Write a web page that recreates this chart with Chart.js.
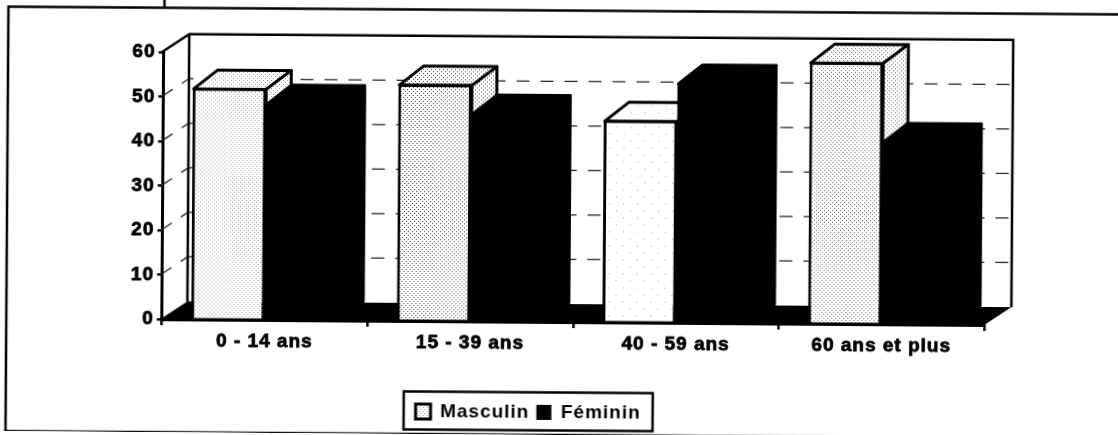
<!DOCTYPE html>
<html>
<head>
<meta charset="utf-8">
<title>Masculin / Féminin</title>
<style>
    html, body { margin: 0; padding: 0; background: #fff; overflow: hidden; }
    /* the scan is a little crooked */
    canvas { display: block; transform: rotate(0.4deg); transform-origin: 559px 217px; }
</style>
<script src="https://cdn.jsdelivr.net/npm/chart.js@4/dist/chart.umd.min.js"></script>
</head>
<body>
<canvas id="chart" width="1118" height="435"></canvas>
<script>
const categories = ['0 - 14 ans', '15 - 39 ans', '40 - 59 ans', '60 ans et plus'];
const masculin = [52, 53.2, 45.4, 58.8];
const feminin = [48.7, 46.8, 53.9, 41.1];
const yTicks = [0, 10, 20, 30, 40, 50, 60];

// depth of the fake 3D, in pixels
const WALL_DX = 27, WALL_DY = -18;
const BAR_DX = 25, BAR_DY = -18;

// dots on a small tile, the scanned screen of the light bars
function stipple(step, color) {
    const tile = document.createElement('canvas');
    tile.width = tile.height = step * 2;
    const c = tile.getContext('2d');
    c.fillStyle = '#fff';
    c.fillRect(0, 0, step * 2, step * 2);
    c.fillStyle = color;
    c.fillRect(0, 0, 1, 1);
    c.fillRect(step, step, 1, 1);
    return document.getElementById('chart').getContext('2d').createPattern(tile, 'repeat');
}

const malePatterns = [stipple(2, '#999'), stipple(2, '#444'), stipple(7, '#aaa'), stipple(2, '#777')];

// top and side faces of one bar
function drawFaces(ctx, bar, fill) {
    const left = bar.x - bar.width / 2;
    const right = bar.x + bar.width / 2;
    ctx.save();
    ctx.fillStyle = fill;
    ctx.strokeStyle = '#000';
    ctx.lineWidth = 3;
    ctx.lineJoin = 'round';
    ctx.beginPath();
    ctx.moveTo(left + 1, bar.y + 1);
    ctx.lineTo(left + BAR_DX, bar.y + BAR_DY);
    ctx.lineTo(right + BAR_DX, bar.y + BAR_DY);
    ctx.lineTo(right, bar.y + 1);
    ctx.closePath();
    ctx.fill();
    ctx.stroke();
    ctx.beginPath();
    ctx.moveTo(right, bar.y + 1);
    ctx.lineTo(right + BAR_DX, bar.y + BAR_DY);
    ctx.lineTo(right + BAR_DX, bar.base + BAR_DY);
    ctx.lineTo(right, bar.base);
    ctx.closePath();
    ctx.fill();
    ctx.stroke();
    ctx.restore();
}

const depthPlugin = {
    id: 'depth',
    beforeLayout(chart) {
        chart.ctx.letterSpacing = '1px';
    },
    afterLayout(chart) {
        // legend sits left of centre in the original
        const legend = chart.legend;
        legend.left = 405;
        legend.right = 654;
        legend.top = 396;
        legend.bottom = 428;
        legend.adjustHitBoxes();
    },
    beforeDraw(chart) {
        const ctx = chart.ctx;
        ctx.letterSpacing = '1px';
        // outer frame runs off the right side of the picture
        ctx.save();
        ctx.strokeStyle = '#000';
        ctx.lineWidth = 2.5;
        ctx.strokeRect(7, 10.5, 1300, 424.5);
        // stray mark on the scan above the frame
        ctx.beginPath();
        ctx.moveTo(163, 2);
        ctx.lineTo(163, 10);
        ctx.stroke();
        ctx.restore();
    },
    beforeDatasetsDraw(chart) {
        const ctx = chart.ctx;
        const y = chart.scales.y;
        const x0 = chart.chartArea.left - 1.5;
        const x1 = chart.chartArea.right;
        const top = y.getPixelForValue(60);
        const base = y.getPixelForValue(0);

        ctx.save();
        // floor
        ctx.fillStyle = '#000';
        ctx.beginPath();
        ctx.moveTo(x0, base);
        ctx.lineTo(x1, base);
        ctx.lineTo(x1 + WALL_DX, base + WALL_DY);
        ctx.lineTo(x0 + WALL_DX, base + WALL_DY);
        ctx.closePath();
        ctx.fill();

        // dashed lines on the two walls
        ctx.strokeStyle = '#222';
        ctx.lineWidth = 1.3;
        ctx.setLineDash([13, 11]);
        yTicks.slice(1, -1).forEach(v => {
            const py = y.getPixelForValue(v);
            ctx.beginPath();
            ctx.moveTo(x0, py);
            ctx.lineTo(x0 + WALL_DX, py + WALL_DY);
            ctx.lineTo(x1 + WALL_DX, py + WALL_DY);
            ctx.stroke();
        });
        ctx.setLineDash([]);

        // walls
        ctx.strokeStyle = '#000';
        ctx.lineWidth = 2.5;
        ctx.beginPath();
        ctx.moveTo(x0, top);
        ctx.lineTo(x0 + WALL_DX, top + WALL_DY);
        ctx.lineTo(x1 + WALL_DX, top + WALL_DY);
        ctx.lineTo(x1 + WALL_DX, base + WALL_DY);
        ctx.moveTo(x0 + WALL_DX, top + WALL_DY);
        ctx.lineTo(x0 + WALL_DX, base + WALL_DY);
        ctx.stroke();
        ctx.restore();

        // male faces go behind every front, the female bar hides part of them
        chart.getDatasetMeta(0).data.forEach((bar, i) => drawFaces(ctx, bar, malePatterns[i]));
    },
    afterDatasetsDraw(chart) {
        chart.getDatasetMeta(1).data.forEach(bar => drawFaces(chart.ctx, bar, '#000'));
    },
    afterDraw(chart) {
        const ctx = chart.ctx;
        const legend = chart.legend;
        ctx.save();
        ctx.strokeStyle = '#000';
        ctx.lineWidth = 2.5;
        ctx.strokeRect(legend.left, legend.top - 3.5, legend.right - legend.left, legend.bottom - legend.top + 6);
        ctx.restore();
    }
};

const labelFont = { family: '"Liberation Sans", Arial, sans-serif', size: 19, weight: 'bold' };

new Chart(document.getElementById('chart'), {
    type: 'bar',
    data: {
        labels: categories,
        datasets: [
            { label: 'Masculin', data: masculin, backgroundColor: malePatterns, borderColor: '#000', borderWidth: 3 },
            { label: 'Féminin', data: feminin, backgroundColor: '#000', borderColor: '#000', borderWidth: 0 }
        ]
    },
    plugins: [depthPlugin],
    options: {
        responsive: false,
        animation: false,
        categoryPercentage: 0.715,
        barPercentage: 1,
        layout: {
            padding: { top: 54.8, right: 133, bottom: 4 }
        },
        plugins: {
            title: { display: false },
            tooltip: { enabled: false },
            legend: {
                position: 'bottom',
                labels: { color: '#000', boxWidth: 15, boxHeight: 15, padding: 7, font: labelFont }
            }
        },
        scales: {
            x: {
                afterFit(scale) { scale.height = 73; },
                border: { color: '#000', width: 3 },
                grid: { drawOnChartArea: false, color: '#000', lineWidth: 2.5, tickLength: 6 },
                ticks: { color: '#000', padding: 4, maxRotation: 0, font: labelFont, textStrokeColor: '#000', textStrokeWidth: 0.8 }
            },
            y: {
                min: 0,
                max: 60,
                afterFit(scale) { scale.width = 162.5; },
                afterBuildTicks(scale) { scale.ticks = yTicks.map(value => ({ value })); },
                border: { color: '#000', width: 3 },
                grid: { drawOnChartArea: false, color: '#000', lineWidth: 2.5, tickLength: 5 },
                ticks: { color: '#000', padding: 3, font: labelFont, textStrokeColor: '#000', textStrokeWidth: 0.8 }
            }
        }
    }
});
</script>
</body>
</html>
